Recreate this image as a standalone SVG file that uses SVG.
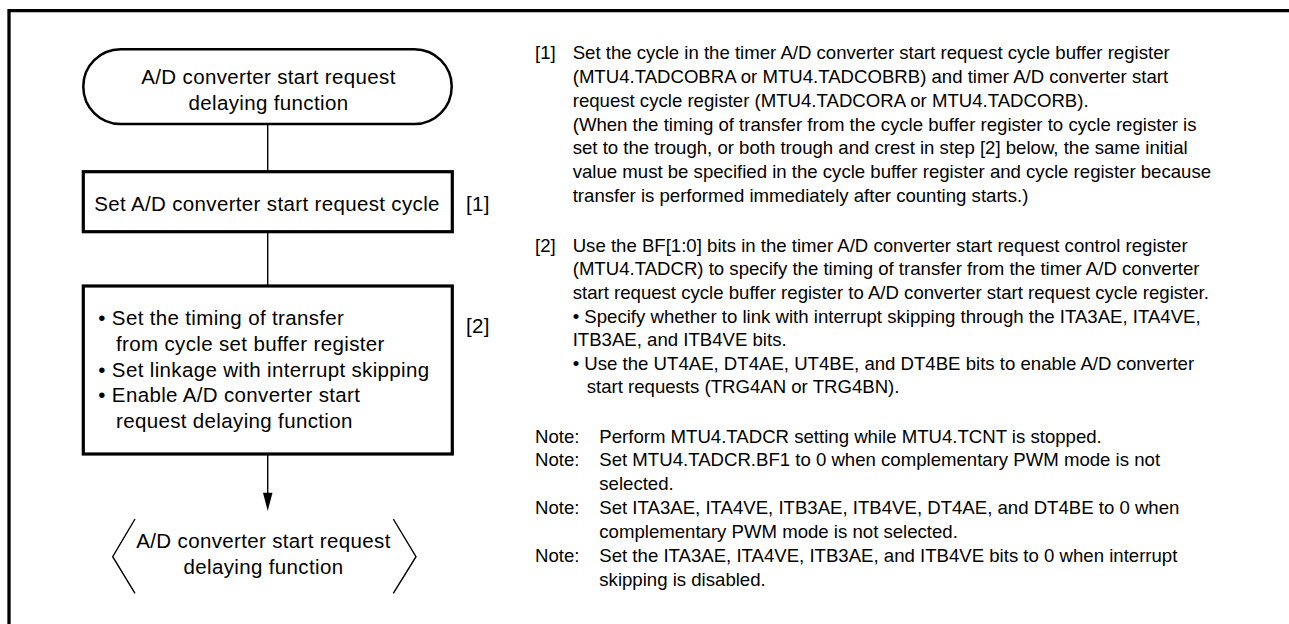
<svg xmlns="http://www.w3.org/2000/svg" width="1289" height="624" viewBox="0 0 1289 624">
<style>
text{font-family:"Liberation Sans",Arial,Helvetica,sans-serif;fill:#000}
.fc{font-size:20.5px;letter-spacing:0.35px}
.fcm{font-size:20.5px;letter-spacing:0.35px;text-anchor:middle}
.nt{font-size:18.6px}
.frame{stroke:#000;stroke-width:3.3;fill:none}
.term{fill:#fff;stroke:#000;stroke-width:2.5}
.box{fill:#fff;stroke:#000;stroke-width:3.2}
.conn{stroke:#000;stroke-width:1.4;fill:none}
.brk{stroke:#000;stroke-width:1.4;fill:none}
</style>
<rect width="1289" height="624" fill="#fff"/>
<g id="frame">
<line class="frame" x1="9" y1="10.7" x2="1289" y2="10.7"/>
<line class="frame" x1="9" y1="9" x2="9" y2="624"/>
</g>
<g id="connectors">
<line class="conn" x1="267.7" y1="124" x2="267.7" y2="172"/>
<line class="conn" x1="267.7" y1="232" x2="267.7" y2="286"/>
<line class="conn" x1="267.7" y1="454" x2="267.7" y2="494"/>
<path d="M263,492.7 L272.5,492.7 L267.7,511 Z" fill="#000"/>
</g>
<g id="start">
<rect class="term" x="83.3" y="49.3" width="368.4" height="74.7" rx="37.3" ry="37.3"/>
<text class="fcm" x="268.5" y="84">A/D converter start request</text>
<text class="fcm" x="268.5" y="110">delaying function</text>
</g>
<g id="step1">
<rect class="box" x="83.3" y="171.7" width="369" height="60"/>
<text class="fcm" x="267" y="211">Set A/D converter start request cycle</text>
<text class="fc" x="466" y="211">[1]</text>
</g>
<g id="step2">
<rect class="box" x="83.3" y="286" width="369" height="168"/>
<text class="fc" x="98.3" y="325">• Set the timing of transfer</text>
<text class="fc" x="116" y="351">from cycle set buffer register</text>
<text class="fc" x="98.3" y="376.7">• Set linkage with interrupt skipping</text>
<text class="fc" x="98.3" y="401.7">• Enable A/D converter start</text>
<text class="fc" x="116" y="427.7">request delaying function</text>
<text class="fc" x="466" y="333">[2]</text>
</g>
<g id="end">
<polyline class="brk" points="135,519 112.7,556.7 135,593.3"/>
<polyline class="brk" points="393.3,519 416,556.7 393.3,593.3"/>
<text class="fcm" x="263.5" y="548.3">A/D converter start request</text>
<text class="fcm" x="263.5" y="574">delaying function</text>
</g>
<g id="notes1">
<text class="nt" x="535" y="59.3">[1]</text>
<text class="nt" x="572.7" y="59.3">Set the cycle in the timer A/D converter start request cycle buffer register</text>
<text class="nt" x="572.7" y="83">(MTU4.TADCOBRA or MTU4.TADCOBRB) and timer A/D converter start</text>
<text class="nt" x="572.7" y="106.8">request cycle register (MTU4.TADCORA or MTU4.TADCORB).</text>
<text class="nt" x="572.7" y="130.5">(When the timing of transfer from the cycle buffer register to cycle register is</text>
<text class="nt" x="572.7" y="154.3">set to the trough, or both trough and crest in step [2] below, the same initial</text>
<text class="nt" x="572.7" y="178">value must be specified in the cycle buffer register and cycle register because</text>
<text class="nt" x="572.7" y="201.8">transfer is performed immediately after counting starts.)</text>
</g>
<g id="notes2">
<text class="nt" x="535" y="251.7">[2]</text>
<text class="nt" x="572.7" y="251.7">Use the BF[1:0] bits in the timer A/D converter start request control register</text>
<text class="nt" x="572.7" y="275.3">(MTU4.TADCR) to specify the timing of transfer from the timer A/D converter</text>
<text class="nt" x="572.7" y="298.9">start request cycle buffer register to A/D converter start request cycle register.</text>
<text class="nt" x="572.7" y="322.5">• Specify whether to link with interrupt skipping through the ITA3AE, ITA4VE,</text>
<text class="nt" x="572.7" y="346.1">ITB3AE, and ITB4VE bits.</text>
<text class="nt" x="572.7" y="369.7">• Use the UT4AE, DT4AE, UT4BE, and DT4BE bits to enable A/D converter</text>
<text class="nt" x="586.7" y="393.3">start requests (TRG4AN or TRG4BN).</text>
</g>
<g id="notes3">
<text class="nt" x="535" y="442.5">Note:</text>
<text class="nt" x="599.3" y="442.5">Perform MTU4.TADCR setting while MTU4.TCNT is stopped.</text>
<text class="nt" x="535" y="466.3">Note:</text>
<text class="nt" x="599.3" y="466.3">Set MTU4.TADCR.BF1 to 0 when complementary PWM mode is not</text>
<text class="nt" x="599.3" y="490.2">selected.</text>
<text class="nt" x="535" y="514">Note:</text>
<text class="nt" x="599.3" y="514">Set ITA3AE, ITA4VE, ITB3AE, ITB4VE, DT4AE, and DT4BE to 0 when</text>
<text class="nt" x="599.3" y="537.9">complementary PWM mode is not selected.</text>
<text class="nt" x="535" y="561.7">Note:</text>
<text class="nt" x="599.3" y="561.7">Set the ITA3AE, ITA4VE, ITB3AE, and ITB4VE bits to 0 when interrupt</text>
<text class="nt" x="599.3" y="585.6">skipping is disabled.</text>
</g>
</svg>
